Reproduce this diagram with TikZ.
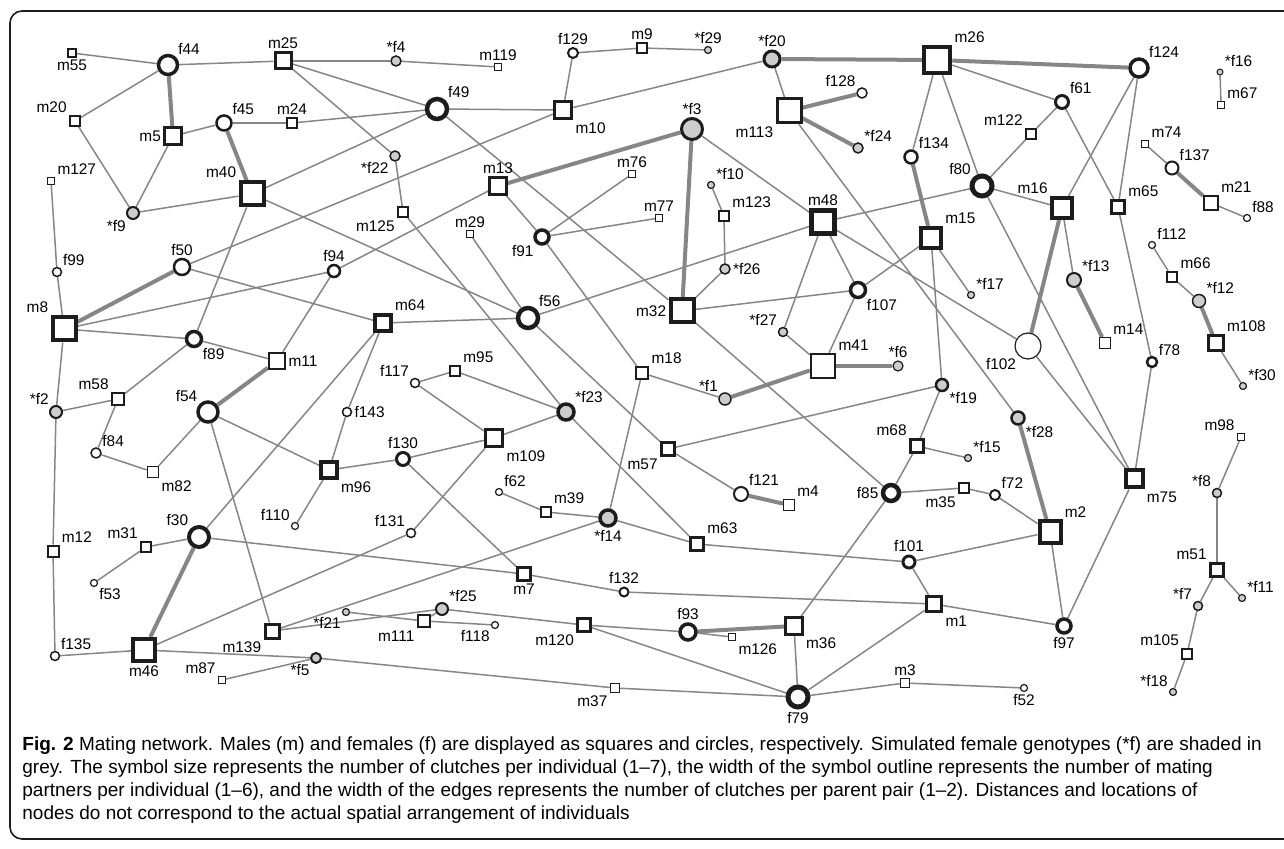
\documentclass[tikz,border=0pt]{standalone}
\usepackage{fontspec}
\setmainfont{Liberation Sans}
\pgfdeclarelayer{edges}
\pgfsetlayers{edges,main}
\definecolor{edgegray}{HTML}{868686}
\definecolor{simgray}{HTML}{CDCDCD}
\definecolor{outline}{HTML}{1C1C1C}
\begin{document}
\begin{tikzpicture}[x=0.5pt,y=-0.5pt,
  male/.style={draw=outline, fill=white, rectangle, inner sep=0pt},
  fem/.style={draw=outline, fill=white, circle, inner sep=0pt},
  sim/.style={fill=simgray},
  edge/.style={draw=edgegray, line width=0.75pt},
  pair/.style={draw=edgegray, line width=2pt},
  every label/.style={font=\fontsize{7.7pt}{9pt}\selectfont, inner sep=1pt, text=black},
  label distance=0pt]
\useasboundingbox (0,0) rectangle (1284,849);
\draw[outline, line width=0.8pt, rounded corners=6pt] (10,11) rectangle (1320,839);

\node[male, minimum size=4pt, line width=0.6pt, label={below:m55}] (m55) at (72,53) {};
\node[fem, minimum size=9.5pt, line width=1.75pt, label={above right:f44}] (f44) at (168,65) {};
\node[male, minimum size=8pt, line width=1.5pt, label={above:m25}] (m25) at (283,61) {};
\node[male, minimum size=5pt, line width=1pt, label={above left:m20}] (m20) at (75,121) {};
\node[male, minimum size=8.5pt, line width=1.25pt, label={left:m5}] (m5) at (173,136) {};
\node[fem, minimum size=7.5pt, line width=1.25pt, label={above right:f45}] (f45) at (224,123) {};
\node[male, minimum size=5pt, line width=1pt, label={above:m24}] (m24) at (292,123) {};
\node[male, minimum size=3.5pt, line width=0.6pt, label={above right:m127}] (m127) at (51,181) {};
\node[male, minimum size=11.5pt, line width=2pt, label={above left:m40}] (m40) at (252,194) {};
\node[fem, sim, minimum size=6pt, line width=1pt, label={below left:*f9}] (sf9) at (133,213) {};
\node[fem, sim, minimum size=5pt, line width=0.75pt, label={above:*f4}] (sf4) at (396,61) {};
\node[male, minimum size=3.5pt, line width=0.6pt, label={above:m119}] (m119) at (498,67) {};
\node[fem, minimum size=5pt, line width=1pt, label={above:f129}] (f129) at (573,53) {};
\node[male, minimum size=5pt, line width=1pt, label={above:m9}] (m9) at (642,48) {};
\node[fem, minimum size=10pt, line width=2.25pt, label={above right:f49}] (f49) at (437,109) {};
\node[male, minimum size=8.5pt, line width=1.75pt, label={below right:m10}] (m10) at (563,110) {};
\node[fem, sim, minimum size=5pt, line width=0.75pt, label={below left:*f22}] (sf22) at (395,156) {};
\node[male, minimum size=8.5pt, line width=1.25pt, label={above:m13}] (m13) at (498,186) {};
\node[male, minimum size=3.5pt, line width=0.6pt, label={above:m76}] (m76) at (632,174) {};
\node[male, minimum size=5pt, line width=1pt, label={below left:m125}] (m125) at (403,212) {};
\node[fem, sim, minimum size=3.5pt, line width=0.6pt, label={above:*f29}] (sf29) at (708,50) {};
\node[fem, sim, minimum size=8pt, line width=1.5pt, label={above:*f20}] (sf20) at (772,59) {};
\node[male, minimum size=13pt, line width=2.25pt, label={above right:m26}] (m26) at (937,60) {};
\node[fem, minimum size=5pt, line width=0.75pt, label={above left:f128}] (f128) at (862,93) {};
\node[male, minimum size=12pt, line width=1.5pt, label={below left:m113}] (m113) at (789,111) {};
\node[fem, sim, minimum size=5pt, line width=0.75pt, label={above right:*f24}] (sf24) at (858,148) {};
\node[fem, sim, minimum size=10.5pt, line width=1.5pt, label={above:*f3}] (sf3) at (692,129) {};
\node[fem, minimum size=6.5pt, line width=1.25pt, label={above right:f134}] (f134) at (911,157) {};
\node[fem, minimum size=10pt, line width=2.5pt, label={above left:f80}] (f80) at (982,186) {};
\node[fem, sim, minimum size=3.5pt, line width=0.6pt, label={above right:*f10}] (sf10) at (711,185) {};
\node[male, minimum size=5pt, line width=1pt, label={above right:m123}] (m123) at (724,216) {};
\node[male, minimum size=3.5pt, line width=0.6pt, label={above:m77}] (m77) at (659,218) {};
\node[male, minimum size=11.5pt, line width=2.25pt, label={above:m48}] (m48) at (823,222) {};
\node[fem, minimum size=9pt, line width=1.75pt, label={above right:f124}] (f124) at (1139,68) {};
\node[fem, minimum size=6.5pt, line width=1.5pt, label={above right:f61}] (f61) at (1062,102) {};
\node[male, minimum size=5pt, line width=1pt, label={above left:m122}] (m122) at (1031,134) {};
\node[male, minimum size=10pt, line width=2pt, label={above left:m16}] (m16) at (1062,208) {};
\node[male, minimum size=6.5pt, line width=1.5pt, label={above right:m65}] (m65) at (1118,207) {};
\node[fem, sim, minimum size=3pt, line width=0.5pt, label={above right:*f16}] (sf16) at (1220,72) {};
\node[male, minimum size=3.5pt, line width=0.5pt, label={above right:m67}] (m67) at (1221,105) {};
\node[male, minimum size=3.5pt, line width=0.6pt, label={above right:m74}] (m74) at (1145,144) {};
\node[fem, minimum size=6.5pt, line width=1pt, label={above right:f137}] (f137) at (1172,168) {};
\node[male, minimum size=7pt, line width=1pt, label={above right:m21}] (m21) at (1211,203) {};
\node[fem, minimum size=3.5pt, line width=0.6pt, label={above right:f88}] (f88) at (1247,218) {};
\node[fem, minimum size=4.5pt, line width=0.75pt, label={above right:f99}] (f99) at (57,272) {};
\node[fem, minimum size=8pt, line width=1.25pt, label={above:f50}] (f50) at (182,267) {};
\node[male, minimum size=11.5pt, line width=2pt, label={above left:m8}] (m8) at (64,329) {};
\node[fem, minimum size=7.5pt, line width=1.75pt, label={below right:f89}] (f89) at (194,339) {};
\node[male, minimum size=8pt, line width=1.25pt, label={right:m11}] (m11) at (277,361) {};
\node[fem, sim, minimum size=6pt, line width=1pt, label={above left:*f2}] (sf2) at (56,412) {};
\node[male, minimum size=6pt, line width=1pt, label={above left:m58}] (m58) at (118,399) {};
\node[fem, minimum size=10pt, line width=1.75pt, label={above left:f54}] (f54) at (208,412) {};
\node[fem, minimum size=6pt, line width=1.25pt, label={above:f94}] (f94) at (334,271) {};
\node[male, minimum size=3.5pt, line width=0.6pt, label={above:m29}] (m29) at (470,234) {};
\node[fem, minimum size=7pt, line width=1.75pt, label={below left:f91}] (f91) at (542,237) {};
\node[male, minimum size=8pt, line width=1.75pt, label={above right:m64}] (m64) at (383,323) {};
\node[fem, minimum size=10pt, line width=2.25pt, label={above right:f56}] (f56) at (528,318) {};
\node[male, minimum size=5pt, line width=1pt, label={above right:m95}] (m95) at (455,371) {};
\node[fem, minimum size=4.5pt, line width=0.75pt, label={above left:f117}] (f117) at (415,383) {};
\node[fem, sim, minimum size=8pt, line width=1.75pt, label={above right:*f23}] (sf23) at (566,412) {};
\node[fem, minimum size=4.5pt, line width=0.75pt, label={right:f143}] (f143) at (347,412) {};
\node[fem, sim, minimum size=5pt, line width=0.75pt, label={right:*f26}] (sf26) at (725,269) {};
\node[male, minimum size=11.5pt, line width=2pt, label={left:m32}] (m32) at (682,311) {};
\node[male, minimum size=10pt, line width=2pt, label={above right:m15}] (m15) at (931,238) {};
\node[fem, minimum size=7.5pt, line width=1.75pt, label={below right:f107}] (f107) at (858,290) {};
\node[fem, sim, minimum size=4.5pt, line width=0.75pt, label={above left:*f27}] (sf27) at (783,332) {};
\node[male, minimum size=12pt, line width=1.25pt, label={above right:m41}] (m41) at (823,366) {};
\node[fem, sim, minimum size=5pt, line width=0.6pt, label={above:*f6}] (sf6) at (898,366) {};
\node[male, minimum size=6pt, line width=1.25pt, label={above right:m18}] (m18) at (642,373) {};
\node[fem, sim, minimum size=6pt, line width=0.75pt, label={above left:*f1}] (sf1) at (725,399) {};
\node[fem, sim, minimum size=6pt, line width=1.25pt, label={below right:*f19}] (sf19) at (942,385) {};
\node[fem, sim, minimum size=3.5pt, line width=0.6pt, label={above right:*f17}] (sf17) at (971,295) {};
\node[fem, minimum size=13pt, line width=0.6pt, label={below left:f102}] (f102) at (1028,346) {};
\node[fem, sim, minimum size=7pt, line width=1pt, label={above right:*f13}] (sf13) at (1074,280) {};
\node[male, minimum size=5.5pt, line width=0.5pt, label={above right:m14}] (m14) at (1105,343) {};
\node[fem, minimum size=5pt, line width=1.25pt, label={above right:f78}] (f78) at (1152,362) {};
\node[fem, minimum size=3.5pt, line width=0.6pt, label={above right:f112}] (f112) at (1152,245) {};
\node[male, minimum size=5pt, line width=1.25pt, label={above right:m66}] (m66) at (1172,277) {};
\node[fem, sim, minimum size=6.5pt, line width=0.75pt, label={above right:*f12}] (sf12) at (1199,301) {};
\node[male, minimum size=7.5pt, line width=1.25pt, label={above right:m108}] (m108) at (1216,343) {};
\node[fem, sim, minimum size=3.5pt, line width=0.6pt, label={above right:*f30}] (sf30) at (1243,386) {};
\node[fem, minimum size=5pt, line width=0.75pt, label={above right:f84}] (f84) at (96,453) {};
\node[male, minimum size=5.5pt, line width=0.75pt, label={below right:m82}] (m82) at (153,472) {};
\node[male, minimum size=8pt, line width=1.75pt, label={below right:m96}] (m96) at (329,470) {};
\node[fem, minimum size=3.5pt, line width=0.6pt, label={above left:f110}] (f110) at (295,526) {};
\node[fem, minimum size=10pt, line width=2pt, label={above left:f30}] (f30) at (199,537) {};
\node[male, minimum size=5pt, line width=1pt, label={above left:m31}] (m31) at (146,547) {};
\node[male, minimum size=5.5pt, line width=1pt, label={above right:m12}] (m12) at (53,551) {};
\node[fem, minimum size=3.5pt, line width=0.6pt, label={below right:f53}] (f53) at (94,583) {};
\node[male, minimum size=7pt, line width=1.5pt, label={below left:m139}] (m139) at (272,631) {};
\node[fem, minimum size=6.5pt, line width=1.5pt, label={above:f130}] (f130) at (403,459) {};
\node[male, minimum size=8.5pt, line width=1.75pt, label={below right:m109}] (m109) at (494,438) {};
\node[fem, minimum size=3.5pt, line width=0.6pt, label={above right:f62}] (f62) at (499,492) {};
\node[male, minimum size=5pt, line width=0.75pt, label={above right:m39}] (m39) at (546,512) {};
\node[fem, sim, minimum size=8pt, line width=1.75pt, label={below:*f14}] (sf14) at (608,518) {};
\node[fem, minimum size=4.5pt, line width=0.75pt, label={above left:f131}] (f131) at (411,533) {};
\node[male, minimum size=6.5pt, line width=1.5pt, label={below:m7}] (m7) at (524,574) {};
\node[fem, minimum size=4.5pt, line width=1pt, label={above:f132}] (f132) at (624,592) {};
\node[fem, sim, minimum size=6pt, line width=1pt, label={above right:*f25}] (sf25) at (442,609) {};
\node[male, minimum size=6.5pt, line width=1.25pt, label={below left:m120}] (m120) at (584,625) {};
\node[male, minimum size=6.5pt, line width=1.5pt, label={below left:m57}] (m57) at (668,449) {};
\node[fem, minimum size=7pt, line width=1pt, label={above right:f121}] (f121) at (741,494) {};
\node[male, minimum size=5.5pt, line width=0.5pt, label={above right:m4}] (m4) at (789,505) {};
\node[male, minimum size=6.5pt, line width=1.5pt, label={above left:m68}] (m68) at (917,446) {};
\node[fem, minimum size=8pt, line width=2.25pt, label={left:f85}] (f85) at (891,493) {};
\node[male, minimum size=5pt, line width=1pt, label={below left:m35}] (m35) at (964,488) {};
\node[male, minimum size=6.5pt, line width=1.5pt, label={above right:m63}] (m63) at (697,544) {};
\node[fem, minimum size=6pt, line width=1.5pt, label={above:f101}] (f101) at (909,562) {};
\node[male, minimum size=7.5pt, line width=1.75pt, label={below right:m1}] (m1) at (934,604) {};
\node[fem, minimum size=8pt, line width=1.75pt, label={above:f93}] (f93) at (688,632) {};
\node[male, minimum size=8.5pt, line width=1.25pt, label={below right:m36}] (m36) at (794,626) {};
\node[fem, sim, minimum size=6.5pt, line width=1.25pt, label={below right:*f28}] (sf28) at (1018,418) {};
\node[fem, sim, minimum size=3.5pt, line width=0.6pt, label={above right:*f15}] (sf15) at (968,458) {};
\node[fem, minimum size=5pt, line width=1pt, label={above right:f72}] (f72) at (995,495) {};
\node[male, minimum size=10.5pt, line width=2pt, label={above right:m2}] (m2) at (1050,532) {};
\node[male, minimum size=8.5pt, line width=2pt, label={below right:m75}] (m75) at (1134,479) {};
\node[male, minimum size=3.5pt, line width=0.6pt, label={above left:m98}] (m98) at (1241,437) {};
\node[fem, sim, minimum size=4.5pt, line width=0.75pt, label={above left:*f8}] (sf8) at (1217,493) {};
\node[male, minimum size=6.5pt, line width=1.5pt, label={above left:m51}] (m51) at (1217,570) {};
\node[fem, sim, minimum size=3.5pt, line width=0.6pt, label={above right:*f11}] (sf11) at (1242,598) {};
\node[fem, sim, minimum size=4.5pt, line width=0.75pt, label={above left:*f7}] (sf7) at (1198,606) {};
\node[male, minimum size=5pt, line width=0.75pt, label={above left:m105}] (m105) at (1187,654) {};
\node[fem, sim, minimum size=3.5pt, line width=0.6pt, label={above left:*f18}] (sf18) at (1173,692) {};
\node[fem, minimum size=7pt, line width=1.75pt, label={below:f97}] (f97) at (1064,626) {};
\node[fem, minimum size=4.5pt, line width=0.75pt, label={above right:f135}] (f135) at (55,656) {};
\node[male, minimum size=11pt, line width=2pt, label={below:m46}] (m46) at (144,650) {};
\node[male, minimum size=3.5pt, line width=0.6pt, label={above left:m87}] (m87) at (222,680) {};
\node[fem, sim, minimum size=5pt, line width=1pt, label={below left:*f5}] (sf5) at (316,658) {};
\node[fem, sim, minimum size=3.5pt, line width=0.6pt, label={below left:*f21}] (sf21) at (346,612) {};
\node[male, minimum size=6pt, line width=1.25pt, label={below left:m111}] (m111) at (424,621) {};
\node[fem, minimum size=3.5pt, line width=0.6pt, label={below left:f118}] (f118) at (495,625) {};
\node[male, minimum size=3.5pt, line width=0.6pt, label={below right:m126}] (m126) at (732,637) {};
\node[fem, minimum size=10pt, line width=2.5pt, label={below:f79}] (f79) at (798,697) {};
\node[male, minimum size=4.5pt, line width=0.75pt, label={below left:m37}] (m37) at (615,688) {};
\node[male, minimum size=4.5pt, line width=0.75pt, label={above:m3}] (m3) at (905,683) {};
\node[fem, minimum size=3.5pt, line width=0.6pt, label={below:f52}] (f52) at (1024,688) {};

\begin{pgfonlayer}{edges}
\draw[edge] (m55) -- (f44);
\draw[edge] (f44) -- (m25);
\draw[edge] (m20) -- (f44);
\draw[pair] (f44) -- (m5);
\draw[edge] (m5) -- (f45);
\draw[edge] (f45) -- (m24);
\draw[edge] (m20) -- (sf9);
\draw[edge] (m5) -- (sf9);
\draw[pair] (f45) -- (m40);
\draw[edge] (sf9) -- (m40);
\draw[edge] (m127) -- (f99);
\draw[edge] (m25) -- (sf4);
\draw[edge] (sf4) -- (m119);
\draw[edge] (m25) -- (f49);
\draw[edge] (m25) -- (sf22);
\draw[edge] (sf22) -- (m125);
\draw[edge] (m24) -- (f49);
\draw[edge] (m40) -- (f49);
\draw[edge] (f49) -- (m10);
\draw[edge] (f129) -- (m10);
\draw[edge] (f129) -- (m9);
\draw[edge] (m9) -- (sf29);
\draw[edge] (m10) -- (sf20);
\draw[edge] (m10) -- (f50);
\draw[edge] (f49) -- (m32);
\draw[pair] (m13) -- (sf3);
\draw[edge] (m13) -- (f91);
\draw[edge] (m13) -- (f94);
\draw[edge] (m76) -- (f91);
\draw[edge] (f91) -- (m77);
\draw[edge] (f91) -- (m18);
\draw[pair] (sf20) -- (m26);
\draw[edge] (sf20) -- (m113);
\draw[pair] (m113) -- (f128);
\draw[pair] (m113) -- (sf24);
\draw[edge] (m113) -- (sf28);
\draw[edge] (sf3) -- (m48);
\draw[pair] (sf3) -- (m32);
\draw[edge] (m26) -- (f134);
\draw[edge] (m26) -- (f80);
\draw[pair] (m26) -- (f124);
\draw[edge] (m26) -- (f61);
\draw[edge] (f61) -- (m122);
\draw[edge] (m122) -- (f80);
\draw[edge] (f80) -- (m16);
\draw[edge] (f124) -- (m16);
\draw[edge] (f124) -- (m65);
\draw[edge] (f61) -- (m65);
\draw[edge] (sf16) -- (m67);
\draw[edge] (m74) -- (f137);
\draw[pair] (f137) -- (m21);
\draw[edge] (m21) -- (f88);
\draw[edge] (m48) -- (f80);
\draw[edge] (f56) -- (m48);
\draw[edge] (m48) -- (f102);
\draw[edge] (m48) -- (f107);
\draw[edge] (m48) -- (sf27);
\draw[edge] (f80) -- (m75);
\draw[pair] (m16) -- (f102);
\draw[edge] (m16) -- (sf13);
\draw[pair] (sf13) -- (m14);
\draw[edge] (m65) -- (f78);
\draw[edge] (f78) -- (m75);
\draw[edge] (f112) -- (m66);
\draw[edge] (m66) -- (sf12);
\draw[pair] (sf12) -- (m108);
\draw[edge] (m108) -- (sf30);
\draw[edge] (m15) -- (sf17);
\draw[pair] (f134) -- (m15);
\draw[edge] (m15) -- (f107);
\draw[edge] (m15) -- (sf19);
\draw[edge] (f102) -- (m75);
\draw[edge] (m123) -- (sf10);
\draw[edge] (m123) -- (sf26);
\draw[edge] (sf26) -- (m32);
\draw[edge] (m32) -- (f107);
\draw[edge] (sf27) -- (m41);
\draw[edge] (f107) -- (m41);
\draw[pair] (m41) -- (sf6);
\draw[pair] (m41) -- (sf1);
\draw[edge] (m18) -- (sf1);
\draw[edge] (m32) -- (f85);
\draw[edge] (sf19) -- (m57);
\draw[edge] (sf19) -- (m68);
\draw[edge] (f99) -- (m8);
\draw[pair] (m8) -- (f50);
\draw[edge] (m8) -- (f94);
\draw[edge] (m8) -- (f89);
\draw[edge] (m8) -- (sf2);
\draw[edge] (f89) -- (m11);
\draw[edge] (f89) -- (m58);
\draw[edge] (sf2) -- (m58);
\draw[pair] (f54) -- (m11);
\draw[edge] (m11) -- (f94);
\draw[edge] (f89) -- (m40);
\draw[edge] (f50) -- (m64);
\draw[edge] (m58) -- (f84);
\draw[edge] (f84) -- (m82);
\draw[edge] (m82) -- (f54);
\draw[edge] (f54) -- (m96);
\draw[edge] (f54) -- (m139);
\draw[edge] (m125) -- (sf23);
\draw[edge] (m29) -- (f56);
\draw[edge] (m40) -- (f56);
\draw[edge] (m64) -- (f56);
\draw[edge] (f56) -- (m57);
\draw[edge] (m64) -- (f143);
\draw[edge] (m64) -- (f30);
\draw[edge] (f143) -- (m96);
\draw[edge] (f117) -- (m95);
\draw[edge] (m95) -- (sf23);
\draw[edge] (f117) -- (m109);
\draw[edge] (sf23) -- (m109);
\draw[edge] (sf23) -- (m63);
\draw[edge] (m18) -- (sf14);
\draw[edge] (m96) -- (f110);
\draw[edge] (m96) -- (f130);
\draw[edge] (f130) -- (m109);
\draw[edge] (f130) -- (m7);
\draw[edge] (m109) -- (f131);
\draw[edge] (f131) -- (m46);
\draw[edge] (f62) -- (m39);
\draw[edge] (m39) -- (sf14);
\draw[edge] (sf14) -- (m63);
\draw[edge] (sf14) -- (m139);
\draw[edge] (sf25) -- (m120);
\draw[edge] (sf25) -- (m139);
\draw[edge] (sf25) -- (m111);
\draw[edge] (m120) -- (f93);
\draw[edge] (m120) -- (f79);
\draw[pair] (f30) -- (m46);
\draw[edge] (f30) -- (m31);
\draw[edge] (m31) -- (f53);
\draw[edge] (sf2) -- (m12);
\draw[edge] (m12) -- (f135);
\draw[edge] (f30) -- (m7);
\draw[edge] (m7) -- (f132);
\draw[edge] (f132) -- (m1);
\draw[edge] (m57) -- (f121);
\draw[pair] (f121) -- (m4);
\draw[edge] (m68) -- (f85);
\draw[edge] (m68) -- (sf15);
\draw[edge] (f85) -- (m35);
\draw[edge] (f85) -- (m36);
\draw[edge] (m63) -- (f101);
\draw[edge] (f101) -- (m2);
\draw[edge] (f101) -- (m1);
\draw[pair] (f93) -- (m36);
\draw[edge] (f93) -- (m126);
\draw[edge] (m36) -- (f79);
\draw[edge] (m1) -- (f79);
\draw[edge] (m1) -- (f97);
\draw[pair] (sf28) -- (m2);
\draw[edge] (m35) -- (f72);
\draw[edge] (f72) -- (m2);
\draw[edge] (m2) -- (f97);
\draw[edge] (m75) -- (f97);
\draw[edge] (m98) -- (sf8);
\draw[edge] (sf8) -- (m51);
\draw[edge] (m51) -- (sf11);
\draw[edge] (m51) -- (sf7);
\draw[edge] (sf7) -- (m105);
\draw[edge] (m105) -- (sf18);
\draw[edge] (f135) -- (m46);
\draw[edge] (m46) -- (sf5);
\draw[edge] (m87) -- (sf5);
\draw[edge] (sf5) -- (m37);
\draw[edge] (m37) -- (f79);
\draw[edge] (f79) -- (m3);
\draw[edge] (m3) -- (f52);
\draw[edge] (sf21) -- (m111);
\draw[edge] (m111) -- (f118);
\end{pgfonlayer}

\node[anchor=north west, align=left, inner sep=0pt, font=\fontsize{9.5pt}{11.5pt}\selectfont] (caption) at (22,736)
  {\textbf{Fig. 2} Mating network. Males (m) and females (f) are displayed as squares and circles, respectively. Simulated female genotypes (*f) are shaded in\\
   grey. The symbol size represents the number of clutches per individual (1--7), the width of the symbol outline represents the number of mating\\
   partners per individual (1--6), and the width of the edges represents the number of clutches per parent pair (1--2). Distances and locations of\\
   nodes do not correspond to the actual spatial arrangement of individuals};
\end{tikzpicture}
\end{document}
